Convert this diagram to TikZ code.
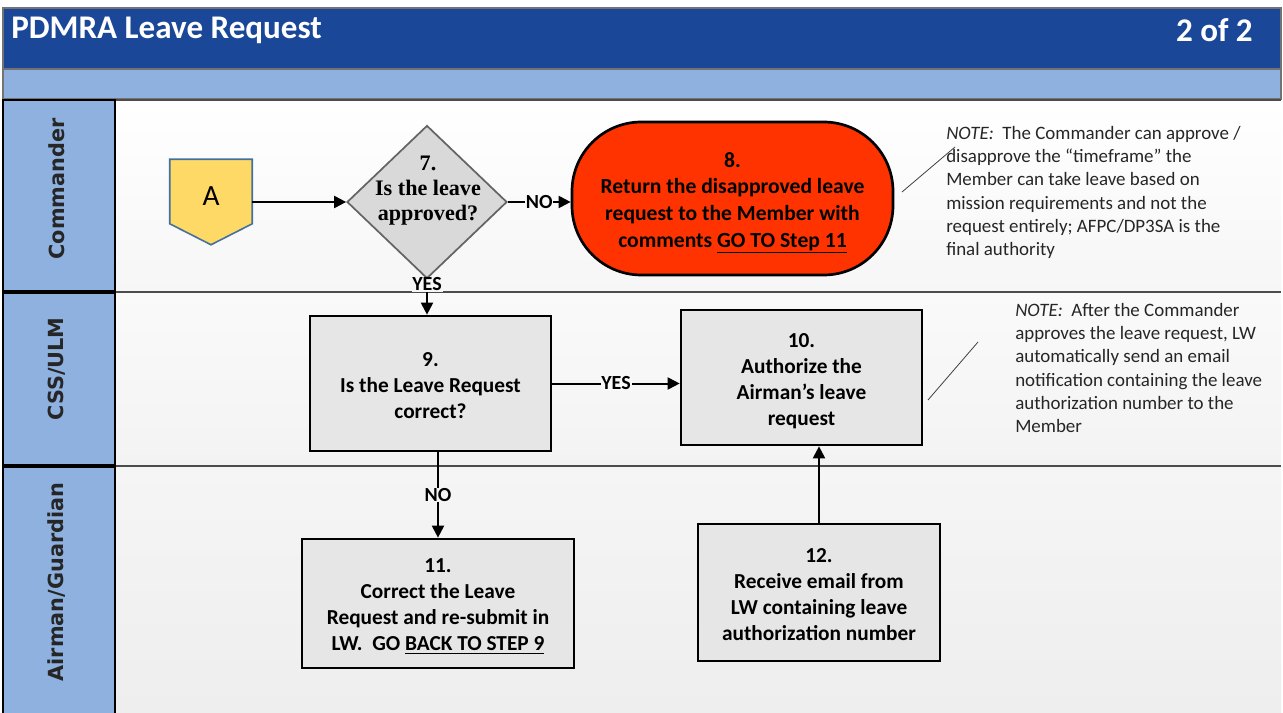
\documentclass[tikz,border=0pt]{standalone}
\usepackage{fontspec}
\setmainfont{Carlito}
\newfontfamily\serifbold{Liberation Serif}
\newfontfamily\lanesans{DejaVu Sans}
\usetikzlibrary{shapes.geometric,arrows.meta,calc}

\definecolor{titleblue}{RGB}{27,71,153}
\definecolor{bandblue}{RGB}{142,177,224}
\definecolor{stopred}{RGB}{255,51,0}
\definecolor{connyellow}{RGB}{255,217,102}
\definecolor{connedge}{RGB}{65,113,156}
\definecolor{decgray}{RGB}{217,217,217}
\definecolor{decedge}{RGB}{100,100,100}
\definecolor{stepgray}{RGB}{230,230,230}
\definecolor{laneink}{RGB}{38,38,38}
\definecolor{laneAtop}{RGB}{255,255,255}
\definecolor{laneAbot}{RGB}{246,246,246}
\definecolor{laneBtop}{RGB}{250,250,250}
\definecolor{laneBbot}{RGB}{243,243,243}
\definecolor{laneCtop}{RGB}{245,245,245}
\definecolor{laneCbot}{RGB}{238,238,238}

% invisible strut that lowers a centred text block a little
\newcommand{\topgap}[1]{\rule{0pt}{#1}}

\tikzset{
  stepbox/.style={draw=black, line width=2pt, fill=stepgray, align=center,
    inner sep=0pt, font=\bfseries\fontsize{16}{19.5}\selectfont},
  stopbox/.style={draw=black, line width=2pt, fill=stopred, align=center,
    inner sep=0pt, rounded corners=52pt, minimum width=240.75pt,
    minimum height=114.75pt, font=\bfseries\fontsize{16.2}{20}\selectfont},
  decision/.style={diamond, draw=decedge, line width=1.3pt, fill=decgray,
    inner sep=0pt, minimum width=120pt, minimum height=114.75pt},
  dectext/.style={align=center, inner sep=0pt,
    font=\serifbold\bfseries\fontsize{16.6}{18.75}\selectfont},
  notetext/.style={align=left, inner sep=0pt, anchor=north west,
    font=\fontsize{14.2}{17.4}\selectfont, text=black!85},
  lanelabel/.style={rotate=90, inner sep=0pt, text=laneink,
    font=\lanesans\bfseries\fontsize{15.6}{15.6}\selectfont},
  flow/.style={line width=1.5pt, -{Triangle[length=9pt,width=9pt]}},
  flowlabel/.style={inner sep=0.6pt, font=\bfseries\fontsize{15}{15}\selectfont},
  noteline/.style={line width=0.6pt, draw=black!75},
  lanerule/.style={line width=1.1pt, draw=black!70},
  lanecell/.style={draw=black, line width=1.4pt, fill=bandblue}
}

\begin{document}
\begin{tikzpicture}[x=0.75pt,y=-0.75pt]
\useasboundingbox (0,0) rectangle (1283,713);
\fill[white] (0,0) rectangle (1283,713);

% header bars
\fill[titleblue] (3,8) rectangle (1281,68);
\fill[bandblue] (3,69) rectangle (1281,99);
\draw[line width=0.8pt, draw=black!55] (3,8) rectangle (1281,69);
\draw[line width=0.8pt, draw=black!55] (3,69) rectangle (1281,99);
\node[anchor=west, inner sep=0pt, text=white, font=\bfseries\fontsize{24.8}{24.8}\selectfont]
  (title) at (11,30) {PDMRA Leave Request};
\node[anchor=east, inner sep=0pt, text=white, font=\bfseries\fontsize{24.8}{24.8}\selectfont]
  (page) at (1253,30) {2 of 2};

% swimlane backgrounds
\shade[top color=laneAtop, bottom color=laneAbot] (115,100) rectangle (1281,292);
\shade[top color=laneBtop, bottom color=laneBbot] (115,292) rectangle (1281,466);
\shade[top color=laneCtop, bottom color=laneCbot] (115,466) rectangle (1281,713);
\draw[lanerule] (115,100) -- (1281,100);
\draw[lanerule] (115,292) -- (1281,292);
\draw[lanerule] (115,466) -- (1281,466);

% lane label cells
\draw[lanecell] (3,100) rectangle (115,291);
\draw[lanecell] (3,293) rectangle (115,465);
\draw[lanecell] (3,467) rectangle (115,716);
\node[lanelabel] (laneA) at (57,189) {Commander};
\node[lanelabel] (laneB) at (57,369) {CSS/ULM};
\node[lanelabel] (laneC) at (57,582) {Airman/Guardian};

% off-page connector A
\node[inner sep=0pt, minimum width=61.5pt, minimum height=63.75pt] (A) at (211,202) {};
\filldraw[fill=connyellow, draw=connedge, line width=1.2pt]
  (A.north west) -- (A.north east) -- ($(A.south east)+(0,-21)$) -- (A.south)
  -- ($(A.south west)+(0,-21)$) -- cycle;
\node[inner sep=0pt, font=\fontsize{22}{22}\selectfont] (Atext) at (211,196) {A};

% step 7 decision
\node[decision] (d7) at (427,202) {};
\node[dectext] (d7text) at (428,191) {7.\\Is the leave\\approved?};

% step 8
\node[stopbox] (s8) at (732.5,198.5)
  {\topgap{17.5pt}8.\\Return the disapproved leave\\request to the Member with\\comments \underline{GO TO Step 11}};

% steps 9-12
\node[stepbox, minimum width=180.75pt, minimum height=101.25pt] (b9) at (430.5,383.5)
  {\topgap{13pt}9.\\Is the Leave Request\\correct?};
\node[stepbox, minimum width=180.75pt, minimum height=101.25pt] (b10) at (801.5,377.5)
  {\topgap{16pt}10.\\Authorize the\\Airman’s leave\\request};
\node[stepbox, minimum width=204pt, minimum height=96.75pt] (b11) at (438,603.5)
  {\topgap{14.5pt}11.\\Correct the Leave\\Request and re-submit in\\LW.\ \ GO \underline{BACK TO STEP 9}};
\node[stepbox, minimum width=181.5pt, minimum height=102.75pt] (b12) at (819,592.5)
  {\topgap{13pt}12.\\Receive email from\\LW containing leave\\authorization number};

% notes
\node[notetext] (note1) at (946,126)
  {\textit{NOTE:}\ \ The Commander can approve /\\disapprove the “timeframe” the\\Member can take leave based on\\mission requirements and not the\\request entirely; AFPC/DP3SA is the\\final authority};
\node[notetext] (note2) at (1015,303)
  {\textit{NOTE:}\ \ After the Commander\\approves the leave request, LW\\automatically send an email\\notification containing the leave\\authorization number to the\\Member};
\coordinate (n1a) at (902,192);
\coordinate (n1b) at (955,147);
\coordinate (n2a) at (928,400);
\coordinate (n2b) at (978,342);
\draw[noteline] (n1a) -- (n1b);
\draw[noteline] (n2a) -- (n2b);

% connectors
\draw[flow] (A.east) -- (d7.west);
\draw[flow] (d7.east) -- node[flowlabel, fill=laneAtop!98!black] {NO} (d7.east -| s8.west);
\draw[flow] (d7.south) -- node[flowlabel, pos=0.14, fill=laneAbot] {YES} (d7.south |- b9.north);
\draw[flow] (b9.east) -- node[flowlabel, fill=laneBtop!99!black] {YES} (b9.east -| b10.west);
\draw[flow] (b9.south -| b11.north) -- node[flowlabel, fill=laneCtop] {NO} (b11.north);
\draw[flow] (b12.north) -- (b12.north |- b10.south);
\end{tikzpicture}
\end{document}
